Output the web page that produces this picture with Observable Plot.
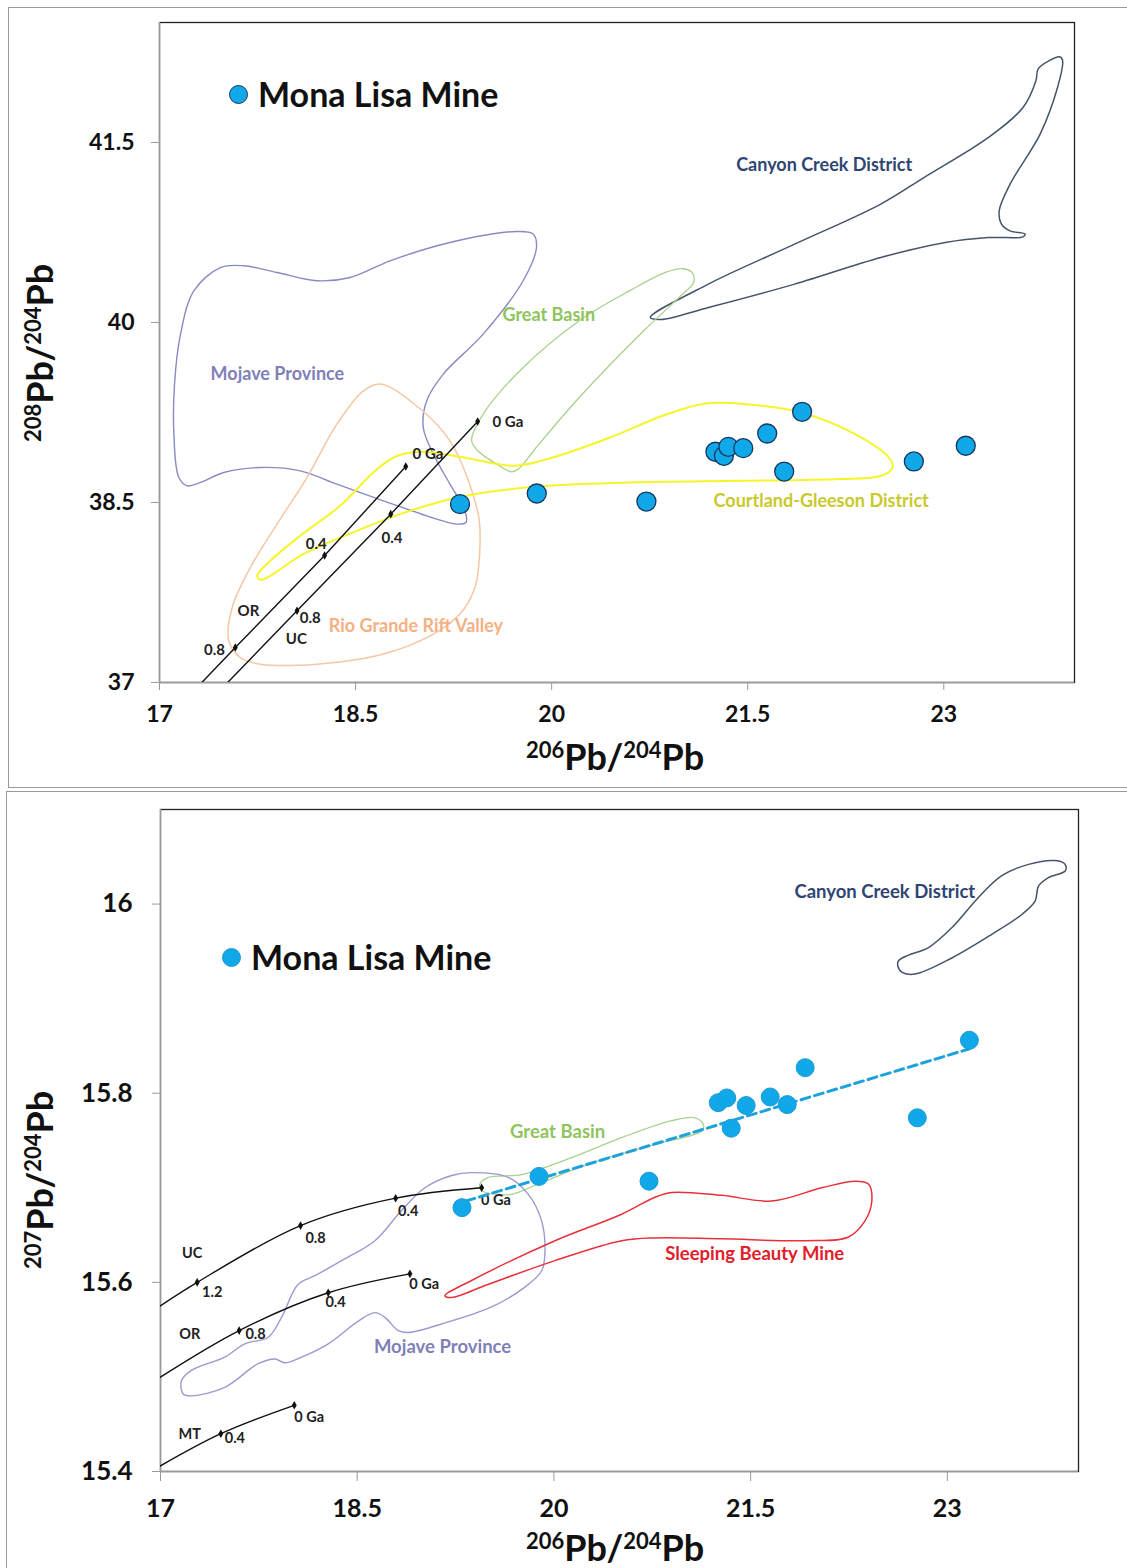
<!DOCTYPE html>
<html><head><meta charset="utf-8">
<script src="https://cdn.jsdelivr.net/npm/d3@7"></script>
<script src="https://cdn.jsdelivr.net/npm/@observablehq/plot@0.6"></script>
<style>
body{margin:0;background:#fff;font-family:Lato,"Open Sans",sans-serif;}
#page{position:relative;width:1127px;height:1568px;overflow:hidden;background:#fff;}
.panel{position:absolute;border:1.5px solid #9a9a9a;box-sizing:border-box;}
.holder{position:absolute;left:0;}
.legend{position:absolute;display:flex;align-items:center;font-weight:700;font-size:34px;line-height:34px;color:#111;white-space:nowrap;}
.legend .dot{width:19px;height:19px;border-radius:50%;background:#10a8e8;box-sizing:border-box;margin-right:10px;}
</style></head><body><div id="page">
<div class="panel" style="left:8px;top:7px;width:1140px;height:781px;"></div>
<div class="panel" style="left:6px;top:791px;width:1140px;height:800px;"></div>
<div class="holder" id="top" style="top:0px;"></div>
<div class="holder" id="bottom" style="top:790px;"></div>
<div class="legend" style="left:229px;top:77px;"><span class="dot" style="border:1.3px solid #17375e"></span>Mona Lisa Mine</div>
<div class="legend" style="left:222px;top:940px;"><span class="dot" style="border:1px solid #1b9ad6"></span>Mona Lisa Mine</div>
</div>
<script>
// ---------- axes ----------
const xTicks = [17, 18.5, 20, 21.5, 23];
const yTicksTop = [37, 38.5, 40, 41.5];
const yTicksBottom = [15.4, 15.6, 15.8, 16];

// ---------- Mona Lisa Mine samples ----------
const mona206 = [19.299, 19.886, 20.725, 21.253, 21.318, 21.352, 21.466, 21.649, 21.779, 21.916, 22.771, 23.168];
const mona208 = [38.487, 38.575, 38.508, 38.923, 38.889, 38.964, 38.953, 39.075, 38.758, 39.256, 38.842, 38.973];
const mona207 = [15.679, 15.712, 15.707, 15.790, 15.795, 15.763, 15.787, 15.796, 15.788, 15.827, 15.774, 15.856];

// regression (dashed) line, bottom panel
const trend206 = [19.33, 23.17];
const trend207 = [15.686, 15.847];

// ---------- growth curves, top panel ----------
const orTop206 = [17.243, 17.580, 18.263, 18.884];
const orTop208 = [36.908, 37.292, 38.058, 38.800];
const ucTop206 = [17.406, 18.052, 18.769, 19.434];
const ucTop208 = [36.870, 37.598, 38.403, 39.175];
const nodesTop206 = [17.580, 18.263, 18.884, 18.052, 18.769, 19.434];
const nodesTop208 = [37.292, 38.058, 38.800, 37.598, 38.403, 39.175];
const curveLabelsTop = ["0 Ga", "0 Ga", "0.4", "0.4", "OR", "0.8", "UC", "0.8"];
const curveLabelsTopX = [19.054, 19.665, 18.199, 18.779, 17.680, 18.153, 18.047, 17.421];
const curveLabelsTopY = [38.906, 39.173, 38.156, 38.206, 37.598, 37.539, 37.364, 37.273];

// ---------- growth curves, bottom panel ----------
const ucBot206 = [16.9, 17.280, 18.068, 18.793, 19.449];
const ucBot207 = [15.566, 15.600, 15.660, 15.689, 15.700];
const orBot206 = [16.9, 17.600, 18.279, 18.902];
const orBot207 = [15.491, 15.549, 15.589, 15.609];
const mtBot206 = [16.9, 17.460, 18.020];
const mtBot207 = [15.398, 15.440, 15.470];
const nodesBot206 = [17.280, 18.068, 18.793, 19.449, 17.600, 18.279, 18.902, 17.460, 18.020];
const nodesBot207 = [15.600, 15.660, 15.689, 15.700, 15.549, 15.589, 15.609, 15.440, 15.470];
const curveLabelsBot = ["UC", "1.2", "0.8", "0.4", "0 Ga", "OR", "0.8", "0.4", "0 Ga", "MT", "0.4", "0 Ga"];
const curveLabelsBotX = [17.242, 17.394, 18.182, 18.889, 19.558, 17.223, 17.725, 18.335, 19.011, 17.223, 17.567, 18.134];
const curveLabelsBotY = [15.631, 15.589, 15.647, 15.675, 15.687, 15.545, 15.545, 15.579, 15.598, 15.439, 15.435, 15.457];

// ---------- field outlines, top panel (206Pb/204Pb, 208Pb/204Pb) ----------
const canyonTop = [[20.755,40.042],[21.199,40.320],[21.859,40.653],[22.518,40.987],[22.848,41.208],[23.342,41.542],[23.606,41.792],[23.705,42.014],[23.721,42.112],[23.804,42.181],[23.886,42.214],[23.909,42.181],[23.870,41.958],[23.737,41.570],[23.507,41.153],[23.424,40.931],[23.441,40.820],[23.507,40.764],[23.622,40.737],[23.606,40.714],[23.342,40.708],[23.012,40.667],[22.518,40.542],[21.859,40.320],[21.199,40.125],[20.837,40.025]];
const mojaveTop = [[17.263,40.264],[17.466,40.458],[17.644,40.473],[17.899,40.417],[18.205,40.348],[18.459,40.375],[18.764,40.514],[19.222,40.667],[19.731,40.758],[19.858,40.737],[19.884,40.625],[19.782,40.348],[19.476,39.903],[19.171,39.570],[19.044,39.348],[19.018,39.125],[19.095,38.903],[19.222,38.653],[19.337,38.431],[19.344,38.333],[19.273,38.320],[19.121,38.362],[18.713,38.514],[18.357,38.653],[18.077,38.764],[17.772,38.792],[17.492,38.750],[17.314,38.667],[17.212,38.639],[17.148,38.708],[17.110,39.070],[17.115,39.487],[17.161,39.903]];
const greatBasinTop = [[19.388,39.014],[19.476,39.237],[19.757,39.598],[20.211,40.014],[20.596,40.264],[20.870,40.417],[21.002,40.448],[21.077,40.414],[21.085,40.331],[21.002,40.237],[20.705,39.931],[20.211,39.375],[19.882,38.958],[19.749,38.781],[19.695,38.756],[19.579,38.820],[19.436,38.931]];
const rioGrandeTop = [[18.688,39.487],[18.917,39.348],[19.222,39.014],[19.438,38.403],[19.451,38.125],[19.413,37.792],[19.298,37.570],[19.095,37.403],[18.713,37.237],[18.205,37.153],[17.772,37.153],[17.619,37.208],[17.530,37.348],[17.556,37.625],[17.695,37.958],[17.899,38.320],[18.128,38.708],[18.357,39.153],[18.560,39.431]];
const courtlandTop = [[17.747,37.889],[17.848,38.014],[18.077,38.223],[18.382,38.473],[18.650,38.764],[18.802,38.881],[18.993,38.923],[19.298,38.881],[19.717,38.806],[20.008,38.875],[20.447,39.042],[20.885,39.237],[21.178,39.325],[21.469,39.320],[21.908,39.250],[22.346,39.056],[22.580,38.875],[22.609,38.792],[22.521,38.723],[22.200,38.695],[21.469,38.681],[20.593,38.667],[19.863,38.631],[19.279,38.542],[18.840,38.403],[18.510,38.264],[18.077,38.056],[17.848,37.889],[17.772,37.856]];

// ---------- field outlines, bottom panel (206Pb/204Pb, 207Pb/204Pb) ----------
const canyonBot = [[22.627,15.940],[22.703,15.946],[22.856,15.954],[23.034,15.975],[23.237,16.007],[23.415,16.030],[23.619,16.042],[23.822,16.046],[23.898,16.042],[23.898,16.035],[23.771,16.028],[23.695,16.019],[23.669,16.003],[23.568,15.989],[23.339,15.968],[23.034,15.943],[22.754,15.926],[22.652,15.928],[22.622,15.935]];
const greatBasinBot = [[19.500,15.711],[19.754,15.714],[20.135,15.732],[20.516,15.753],[20.898,15.771],[21.076,15.774],[21.140,15.767],[21.127,15.760],[20.770,15.746],[20.262,15.725],[19.881,15.704],[19.677,15.693],[19.576,15.693],[19.449,15.697],[19.436,15.704]];
const mojaveBot = [[17.160,15.496],[17.236,15.507],[17.490,15.521],[17.643,15.535],[17.822,15.542],[17.923,15.563],[18.050,15.598],[18.177,15.607],[18.381,15.623],[18.635,15.644],[18.838,15.676],[19.016,15.700],[19.220,15.713],[19.372,15.716],[19.652,15.711],[19.805,15.693],[19.906,15.665],[19.931,15.630],[19.906,15.612],[19.779,15.595],[19.525,15.574],[19.143,15.556],[18.889,15.547],[18.813,15.549],[18.711,15.563],[18.635,15.568],[18.508,15.559],[18.279,15.535],[18.076,15.521],[17.948,15.515],[17.872,15.519],[17.745,15.514],[17.490,15.489],[17.236,15.480],[17.173,15.482]];
const sleepingBot = [[19.169,15.586],[19.372,15.602],[20.008,15.644],[20.516,15.672],[20.770,15.690],[20.898,15.695],[21.279,15.692],[21.661,15.686],[22.042,15.700],[22.296,15.707],[22.398,15.704],[22.424,15.686],[22.372,15.665],[22.246,15.648],[21.915,15.644],[21.279,15.646],[20.770,15.647],[20.516,15.644],[20.008,15.623],[19.500,15.598],[19.220,15.584]];

// ---------- field labels ----------
const fieldNamesTop = ["Canyon Creek District", "Great Basin", "Mojave Province", "Courtland-Gleeson District", "Rio Grande Rift Valley"];
const fieldNamesTopX = [22.085, 19.978, 17.902, 22.062, 18.962];
const fieldNamesTopY = [41.314, 40.064, 39.573, 38.514, 37.473];
const fieldColorsTop = ["#2f4572", "#8fc45e", "#8080b8", "#c9c92c", "#f4b183"];
const fieldNamesBot = ["Canyon Creek District", "Great Basin", "Sleeping Beauty Mine", "Mojave Province"];
const fieldNamesBotX = [22.523, 20.028, 21.531, 19.151];
const fieldNamesBotY = [16.013, 15.759, 15.630, 15.532];
const fieldColorsBot = ["#2f4572", "#8fc45e", "#e0202a", "#8080b8"];

const FONT = "Lato, 'Open Sans', sans-serif";
const outline = (pts, stroke, w) => Plot.line(pts, {x: d => d[0], y: d => d[1], stroke, strokeWidth: w, curve: "catmull-rom-closed"});

const topPlot = Plot.plot({
  width: 1127, height: 790,
  marginLeft: 159, marginRight: 53, marginTop: 22, marginBottom: 108,
  style: {fontFamily: FONT, background: "transparent", color: "#111", overflow: "visible"},
  x: {domain: [17, 24]},
  y: {domain: [37, 42.5]},
  marks: [
    Plot.frame({stroke: "#222", strokeWidth: 1.3}),
    Plot.ruleX([17], {stroke: "#9a9a9a", strokeWidth: 1.3}),
    Plot.ruleY([37], {stroke: "#9a9a9a", strokeWidth: 1.3}),
    Plot.axisX(xTicks, {tickSize: 8, tickPadding: 15, fontSize: 23, fontWeight: "bold", stroke: "#9a9a9a", tickFormat: d => String(d), label: null}),
    Plot.axisY(yTicksTop, {tickSize: 8, tickPadding: 17, fontSize: 23, fontWeight: "bold", stroke: "#9a9a9a", tickFormat: d => String(d), label: null}),
    outline(canyonTop, "#44546a", 1.5),
    outline(mojaveTop, "#8a8ac2", 1.4),
    outline(greatBasinTop, "#a9d18e", 1.3),
    outline(rioGrandeTop, "#f6c7a4", 1.5),
    outline(courtlandTop, "#f5f52a", 2),
    Plot.line(orTop206, {x: orTop206, y: orTop208, stroke: "#111", strokeWidth: 1.4, clip: true}),
    Plot.line(ucTop206, {x: ucTop206, y: ucTop208, stroke: "#111", strokeWidth: 1.4, clip: true}),
    Plot.dot(nodesTop206, {x: nodesTop206, y: nodesTop208, r: 2.6, symbol: "diamond", fill: "#111"}),
    Plot.text(curveLabelsTop, {x: curveLabelsTopX, y: curveLabelsTopY, text: d => d, fontSize: 15, fontWeight: "bold", fill: "#222"}),
    Plot.text(fieldNamesTop, {x: fieldNamesTopX, y: fieldNamesTopY, text: d => d, fill: fieldColorsTop, fontSize: 18, fontWeight: "bold"}),
    Plot.dot(mona206, {x: mona206, y: mona208, r: 9.5, fill: "#10a8e8", stroke: "#17375e", strokeWidth: 1.3})
  ]
});

const botPlot = Plot.plot({
  width: 1127, height: 778,
  marginLeft: 160, marginRight: 49, marginTop: 19, marginBottom: 97,
  style: {fontFamily: FONT, background: "transparent", color: "#111", overflow: "visible"},
  x: {domain: [17, 24]},
  y: {domain: [15.4, 16.1]},
  marks: [
    Plot.frame({stroke: "#222", strokeWidth: 1.3}),
    Plot.ruleX([17], {stroke: "#9a9a9a", strokeWidth: 1.3}),
    Plot.ruleY([15.4], {stroke: "#9a9a9a", strokeWidth: 1.3}),
    Plot.axisX(xTicks, {tickSize: 10, tickPadding: 18, fontSize: 25, fontWeight: "bold", stroke: "#9a9a9a", tickFormat: d => String(d), label: null}),
    Plot.axisY(yTicksBottom, {tickSize: 8, tickPadding: 20, fontSize: 26, fontWeight: "bold", stroke: "#9a9a9a", tickFormat: d => String(d), label: null}),
    outline(canyonBot, "#44546a", 1.5),
    outline(greatBasinBot, "#a9d18e", 1.3),
    outline(mojaveBot, "#9a9ad0", 1.4),
    outline(sleepingBot, "#e8303a", 1.5),
    Plot.line(ucBot206, {x: ucBot206, y: ucBot207, stroke: "#111", strokeWidth: 1.4, curve: "catmull-rom", clip: true}),
    Plot.line(orBot206, {x: orBot206, y: orBot207, stroke: "#111", strokeWidth: 1.4, curve: "catmull-rom", clip: true}),
    Plot.line(mtBot206, {x: mtBot206, y: mtBot207, stroke: "#111", strokeWidth: 1.4, curve: "catmull-rom", clip: true}),
    Plot.dot(nodesBot206, {x: nodesBot206, y: nodesBot207, r: 2.6, symbol: "diamond", fill: "#111"}),
    Plot.text(curveLabelsBot, {x: curveLabelsBotX, y: curveLabelsBotY, text: d => d, fontSize: 14.5, fontWeight: "bold", fill: "#222"}),
    Plot.text(fieldNamesBot, {x: fieldNamesBotX, y: fieldNamesBotY, text: d => d, fill: fieldColorsBot, fontSize: 18.5, fontWeight: "bold"}),
    Plot.line(trend206, {x: trend206, y: trend207, stroke: "#1da2dc", strokeWidth: 3, strokeDasharray: "9,5"}),
    Plot.dot(mona206, {x: mona206, y: mona207, r: 9, fill: "#10a8e8", stroke: "#1b9ad6", strokeWidth: 1})
  ]
});

function addTitle(svg, supA, supB, x, y, rotate) {
  const t = d3.select(svg).append("text")
    .attr("transform", `translate(${x},${y})` + (rotate ? " rotate(-90)" : ""))
    .attr("text-anchor", "middle")
    .attr("fill", "#111")
    .style("font-family", FONT).style("font-weight", "700").style("font-size", "36px");
  t.append("tspan").text(supA).style("font-size", "22px").attr("dy", -12);
  t.append("tspan").text("Pb/").attr("dy", 12);
  t.append("tspan").text(supB).style("font-size", "22px").attr("dy", -12);
  t.append("tspan").text("Pb").attr("dy", 12);
}
addTitle(topPlot, "206", "204", 615, 770, false);
addTitle(topPlot, "208", "204", 53, 353, true);
addTitle(botPlot, "206", "204", 615, 771, false);
addTitle(botPlot, "207", "204", 53, 390, true);

document.getElementById("top").appendChild(topPlot);
document.getElementById("bottom").appendChild(botPlot);
</script>
</body></html>
